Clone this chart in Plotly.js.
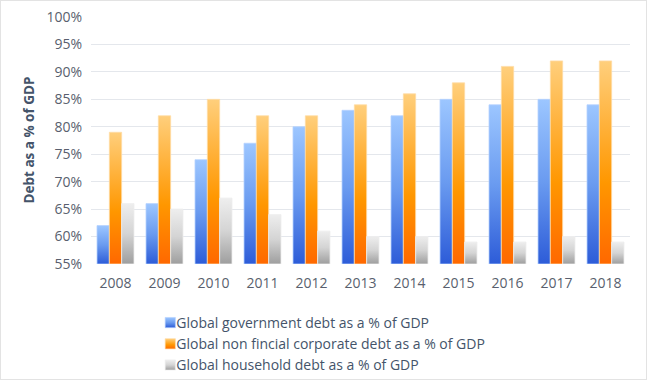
<!DOCTYPE html>
<html>
<head>
<meta charset="utf-8">
<script src="https://cdn.plot.ly/plotly-3.0.1.min.js"></script>
<style>
html,body{margin:0;padding:0;background:#fff;}
#wrap{width:645px;height:378px;border:1px solid #e3e3e3;overflow:hidden;}
#chart{width:645px;height:378px;}
</style>
</head>
<body>
<div id="wrap"><div id="chart"></div></div>
<script>
const years = ['2008','2009','2010','2011','2012','2013','2014','2015','2016','2017','2018'];
const governmentDebt = [62, 66, 74, 77, 80, 83, 82, 85, 84, 85, 84];
const corporateDebt = [79, 82, 85, 82, 82, 84, 86, 88, 91, 92, 92];
const householdDebt = [66, 65, 67, 64, 61, 60, 60, 59, 59, 60, 59];
const seriesNames = [
  'Global government debt as a % of GDP',
  'Global non fincial corporate debt as a % of GDP',
  'Global household debt as a % of GDP'
];
const yTicks = [55, 60, 65, 70, 75, 80, 85, 90, 95, 100];
const yTickText = yTicks.map(v => v + '%');
const yTitle = 'Debt as a % of GDP';
const axisBase = 55;

const fills = ['#4a7ee8', '#ff8c00', '#c4c4c4'];
const outlines = ['#b5d2ff', '#ffdca6', '#ededed'];
const gradStops = [
  [['0%','#9cc6ff'],['50%','#6a9bf0'],['100%','#2d5cd8']],
  [['0%','#ffcf7c'],['60%','#ff9700'],['100%','#ff6800']],
  [['0%','#eeeeee'],['50%','#d4d4d4'],['100%','#9e9e9e']]
];

const dataSets = [governmentDebt, corporateDebt, householdDebt];
const traces = dataSets.map((vals, i) => ({
  type: 'bar',
  x: years,
  y: vals.map(v => v - axisBase),
  base: axisBase,
  name: seriesNames[i],
  marker: {color: fills[i], line: {color: outlines[i], width: 0.8}},
  hoverinfo: 'x+name'
}));

const font = "'Open Sans', 'DejaVu Sans', sans-serif";
const layout = {
  width: 645, height: 378,
  margin: {l: 90, r: 16, t: 16, b: 115, autoexpand: false},
  paper_bgcolor: '#ffffff',
  plot_bgcolor: '#ffffff',
  barmode: 'group',
  bargap: 0.245,
  bargroupgap: 0,
  font: {family: font, color: '#595f6e', size: 14},
  xaxis: {
    type: 'category',
    showgrid: false,
    showline: false,
    ticks: '',
    tickfont: {size: 14, color: '#595f6e'},
    ticklabelstandoff: 9,
    automargin: false
  },
  yaxis: {
    range: [55, 100],
    tickvals: yTicks,
    ticktext: yTickText,
    showgrid: true,
    gridcolor: '#e4e7ec',
    gridwidth: 1,
    zeroline: false,
    showline: false,
    ticks: '',
    tickfont: {size: 14, color: '#595f6e'},
    ticklabelstandoff: 8,
    automargin: false
  },
  annotations: [{
    text: '<b>' + yTitle + '</b>',
    xref: 'paper', yref: 'paper',
    x: 0, y: 0.5,
    xanchor: 'center', yanchor: 'middle',
    xshift: -63,
    textangle: -90,
    showarrow: false,
    font: {size: 13.5, color: '#44546a', family: font}
  }],
  legend: {
    orientation: 'v',
    x: 0.084, xanchor: 'left',
    y: -0.174, yanchor: 'top',
    font: {size: 14, color: '#44546a'},
    tracegroupgap: 0,
    traceorder: 'normal'
  },
  showlegend: true
};

Plotly.newPlot('chart', traces, layout, {displayModeBar: false, staticPlot: true}).then(gd => {
  const svg = gd.querySelector('svg.main-svg');
  const ns = 'http://www.w3.org/2000/svg';
  let defs = svg.querySelector('defs');
  if (!defs) { defs = document.createElementNS(ns, 'defs'); svg.insertBefore(defs, svg.firstChild); }
  gradStops.forEach((stops, i) => {
    const lg = document.createElementNS(ns, 'linearGradient');
    lg.setAttribute('id', 'barGrad' + i);
    lg.setAttribute('x1', '0'); lg.setAttribute('y1', '0');
    lg.setAttribute('x2', '0'); lg.setAttribute('y2', '1');
    stops.forEach(s => {
      const st = document.createElementNS(ns, 'stop');
      st.setAttribute('offset', s[0]);
      st.setAttribute('stop-color', s[1]);
      lg.appendChild(st);
    });
    defs.appendChild(lg);
  });
  gd.querySelectorAll('g.trace.bars').forEach((g, i) => {
    g.querySelectorAll('path').forEach(p => { p.style.fill = 'url(#barGrad' + i + ')'; });
  });
  gd.querySelectorAll('g.legend g.traces').forEach((g, i) => {
    const lp = g.querySelector('g.legendpoints');
    if (lp) lp.setAttribute('transform', 'translate(17,0) scale(0.85)');
    g.querySelectorAll('g.legendpoints path').forEach(p => { p.style.fill = 'url(#barGrad' + i + ')'; });
  });
});
</script>
</body>
</html>
